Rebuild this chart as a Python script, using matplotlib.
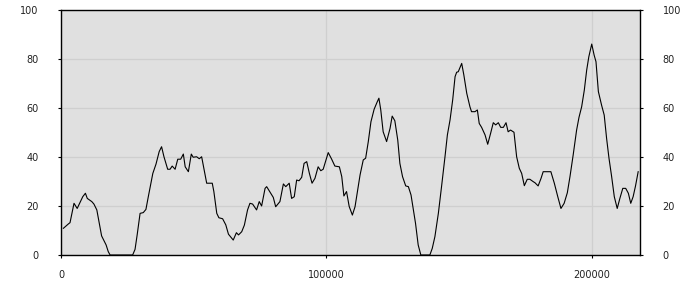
import matplotlib
matplotlib.use("Agg")
import matplotlib.pyplot as plt

x_vals = [900, 2800, 3400, 4900, 6100, 8200, 9200, 9900, 11600, 12400, 13500, 14300,
          15300, 17000, 17800, 18500, 27000, 27900, 28700, 29800, 31000, 32000, 32900,
          34600, 35800, 37000, 37900, 38800, 40200, 41100, 41900, 43000, 44000, 45100,
          46100, 46800, 48000, 49100, 49800, 51100, 52100, 53000, 53900, 54900, 57000,
          57600, 58700, 59500, 60900, 62100, 63100, 64900, 66100, 66900, 68100, 69100,
          70300, 71200, 72200, 73700, 74700, 75600, 76900, 77500, 79400, 80000, 80900,
          82500, 83800, 84700, 86000, 86900, 87900, 88800, 89700, 90700, 91600, 92600,
          93600, 94600, 95700, 96900, 97900, 98800, 100700, 102000, 103200, 104900,
          105800, 106600, 107600, 108600, 109800, 110800, 112700, 113900, 114800,
          115800, 116800, 118000, 119200, 119800, 120500, 121400, 122700, 124000,
          124800, 125800, 126900, 127700, 128700, 129900, 130900, 131900, 132700,
          133600, 134600, 135600, 139000, 139900, 140900, 142200, 143400, 144700,
          145600, 146600, 147600, 148500, 149100, 149700, 151000, 151800, 152900,
          154100, 154700, 156000, 156900, 157600, 158500, 159800, 160800, 161900,
          162900, 163800, 164800, 165700, 166700, 167700, 168500, 169400, 170700,
          171700, 172700, 173600, 174600, 175700, 176700, 178000, 178600, 179800,
          180900, 181700, 184600, 185900, 187200, 188400, 189600, 190800, 191800,
          193000, 194300, 195200, 196200, 197200, 198100, 198900, 200000, 200900,
          201600, 202500, 203700, 204700, 205600, 206500, 207500, 208500, 209600,
          210600, 211700, 212800, 213800, 214700, 215600, 216500, 217500]

y_vals = [10.9, 12.7, 13.2, 21.1, 19.0, 23.8, 25.2, 23.1, 21.8, 20.8, 18.4, 13.6,
          7.8, 4.1, 1.4, 0, 0, 2.3, 8.2, 17.0, 17.3, 18.6, 23.8,
          33.3, 37.1, 42.2, 44.2, 40.1, 35.0, 35.0, 36.3, 35.0, 39.1, 39.1,
          41.2, 36.0, 34.0, 41.2, 39.9, 40.1, 39.3, 40.1, 35.0, 29.3, 29.3,
          25.9, 17.0, 15.2, 14.8, 12.3, 8.5, 6.1, 9.1, 8.2, 9.5, 12.2,
          18.4, 21.1, 20.8, 18.4, 21.8, 20.0, 27.2, 27.9, 24.5, 23.5, 19.7,
          21.8, 29.0, 27.9, 29.3, 23.1, 23.8, 30.6, 30.3, 31.7, 37.4, 38.1,
          33.3, 29.3, 31.3, 36.0, 34.4, 35.0, 41.8, 39.1, 36.3, 36.0,
          32.0, 24.1, 25.9, 19.8, 16.3, 19.7, 32.7, 38.8, 39.5,
          46.3, 54.4, 59.5, 62.6, 64.0, 59.2, 50.3, 46.3, 51.7,
          56.7, 54.8, 46.9, 37.4, 32.0, 28.2, 27.9, 24.5, 19.0,
          12.9, 4.1, 0, 0, 2.7, 7.5, 17.0, 27.9, 40.1,
          49.0, 55.1, 63.3, 72.8, 74.6, 74.8, 78.2, 73.5, 66.0,
          60.5, 58.5, 58.5, 59.2, 53.7, 52.1, 49.0, 45.2, 49.7,
          54.0, 53.1, 54.0, 52.1, 52.1, 54.0, 50.3, 51.0, 50.1,
          40.1, 35.4, 33.3, 28.3, 30.9, 30.9, 29.9, 29.5, 28.2,
          31.3, 34.0, 34.0, 29.3, 23.8, 19.0, 21.1, 25.4, 32.0,
          40.8, 51.0, 56.2, 60.5, 67.3, 75.5, 80.9, 86.1, 81.6,
          78.9, 66.7, 61.2, 57.1, 47.6, 39.5, 32.0, 23.8, 19.0,
          23.1, 27.2, 27.2, 25.2, 21.1, 23.8, 28.2, 34.0]

x_ticks = [0, 100000, 200000]
x_tick_labels = ["0", "100000", "200000"]
y_ticks = [0, 20, 40, 60, 80, 100]
y_tick_labels = ["0", "20", "40", "60", "80", "100"]

fig = plt.figure(figsize=(7, 3), dpi=100)
ax = fig.add_axes([61 / 700, 1 - 255 / 300, (640.3 - 61) / 700, 245 / 300])
ax.set_facecolor("#e0e0e0")

ax.plot(x_vals, y_vals, color="black", linewidth=0.8, zorder=3)

ax.set_xlim(0, 218300)
ax.set_ylim(0, 100)
ax.set_xticks(x_ticks)
ax.set_xticklabels(x_tick_labels)
ax.set_yticks(y_ticks)
ax.set_yticklabels(y_tick_labels)

ax.grid(True, color="#cfcfcf", linewidth=0.9, zorder=1)
ax.set_axisbelow(True)

for s in ax.spines.values():
    s.set_color("black")
    s.set_linewidth(1.0)

ax.tick_params(axis="y", which="both", left=True, right=True, labelleft=True,
               labelright=True, length=2, width=0.8, pad=14, labelsize=7,
               colors="black")
ax.tick_params(axis="x", length=2, width=0.8, pad=9, labelsize=7, colors="black")
for lab in ax.get_yticklabels() + ax.get_xticklabels():
    lab.set_color("#222222")

fig.savefig("out.png", dpi=100)
